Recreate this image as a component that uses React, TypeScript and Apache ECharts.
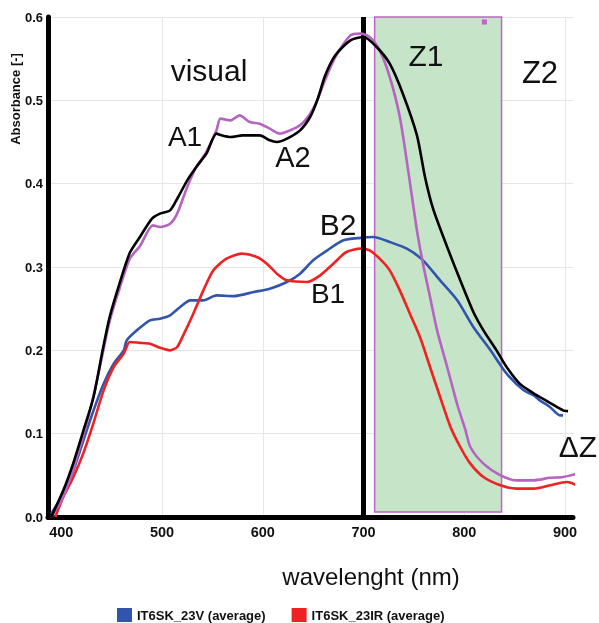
import React, { useEffect, useRef } from 'react';
import * as echarts from 'echarts';

// ---- data (wavelength nm / absorbance) ----
const blackNm = [390, 402, 412, 422, 432, 441, 448, 458, 468, 478, 490, 498, 508, 516, 525, 534, 544, 554, 559, 568, 580, 597, 607, 614, 624, 637, 647, 654, 662, 672, 687, 700, 713, 726, 739, 753, 761, 769, 783, 796, 809, 819, 832, 842, 855, 868, 875, 885, 898, 903];
const blackAbs = [0.0, 0.032, 0.065, 0.104, 0.144, 0.2, 0.24, 0.281, 0.317, 0.336, 0.358, 0.364, 0.368, 0.384, 0.404, 0.42, 0.436, 0.46, 0.458, 0.456, 0.458, 0.458, 0.452, 0.45, 0.454, 0.464, 0.48, 0.5, 0.53, 0.554, 0.572, 0.576, 0.564, 0.544, 0.508, 0.458, 0.408, 0.37, 0.324, 0.284, 0.246, 0.224, 0.2, 0.18, 0.16, 0.149, 0.144, 0.137, 0.128, 0.127];

const purpleNm = [390, 400, 410, 420, 430, 440, 448, 458, 468, 478, 491, 498, 508, 515, 525, 534, 544, 554, 558, 568, 577, 587, 597, 607, 617, 627, 637, 647, 654, 662, 672, 687, 697, 706, 716, 726, 736, 745, 753, 759, 766, 773, 783, 793, 801, 806, 819, 836, 852, 869, 885, 898, 912];
const purpleAbs = [0.0, 0.02, 0.05, 0.09, 0.135, 0.19, 0.235, 0.275, 0.31, 0.325, 0.35, 0.348, 0.352, 0.364, 0.396, 0.42, 0.438, 0.464, 0.478, 0.476, 0.482, 0.474, 0.472, 0.466, 0.46, 0.464, 0.47, 0.484, 0.5, 0.525, 0.552, 0.578, 0.58, 0.576, 0.56, 0.528, 0.48, 0.41, 0.344, 0.304, 0.264, 0.224, 0.18, 0.135, 0.105, 0.084, 0.064, 0.05, 0.044, 0.044, 0.047, 0.048, 0.052];

const redNm = [394, 402, 412, 422, 432, 442, 452, 462, 468, 478, 488, 498, 508, 515, 521, 531, 541, 551, 564, 579, 594, 604, 614, 624, 644, 657, 670, 683, 697, 706, 716, 726, 736, 746, 756, 766, 776, 786, 796, 806, 819, 836, 852, 869, 885, 902, 915];
const redAbs = [0.0, 0.024, 0.048, 0.077, 0.113, 0.152, 0.18, 0.196, 0.21, 0.209, 0.208, 0.203, 0.2, 0.204, 0.218, 0.244, 0.272, 0.296, 0.31, 0.316, 0.312, 0.304, 0.292, 0.284, 0.282, 0.29, 0.304, 0.318, 0.322, 0.32, 0.31, 0.296, 0.272, 0.244, 0.216, 0.18, 0.144, 0.109, 0.084, 0.064, 0.048, 0.038, 0.034, 0.034, 0.038, 0.042, 0.036];

const blueNm = [390, 402, 412, 422, 432, 442, 452, 462, 465, 475, 488, 498, 508, 518, 528, 541, 554, 571, 591, 607, 624, 637, 650, 664, 680, 697, 710, 726, 743, 759, 776, 793, 809, 826, 842, 859, 869, 875, 885, 895, 898];
const blueAbs = [0.004, 0.028, 0.056, 0.092, 0.128, 0.16, 0.184, 0.2, 0.212, 0.224, 0.236, 0.238, 0.242, 0.252, 0.26, 0.26, 0.266, 0.265, 0.27, 0.274, 0.282, 0.292, 0.308, 0.32, 0.332, 0.335, 0.336, 0.33, 0.322, 0.308, 0.284, 0.26, 0.228, 0.2, 0.172, 0.152, 0.146, 0.14, 0.132, 0.122, 0.122];

const xTicks = [400, 500, 600, 700, 800, 900];
const legendNames = ['IT6SK_23V (average)', 'IT6SK_23IR (average)'];
const zoneNm = [711, 837];
const boundaryNm = 700;

const FONT = '"Liberation Sans", Arial, sans-serif';
const GRID = '#e6e6e6';
const BLACK = '#000000';
const PURPLE = '#b763c2';
const BLUE = '#3155ad';
const RED = '#ee2222';

const pairs = (xs: number[], ys: number[]) => xs.map((x, i) => [x, ys[i]]);

const annot = (text: string, x: number, y: number, size: number) => ({
  type: 'text',
  x,
  y,
  z: 50,
  style: {
    text,
    fill: '#111',
    fontSize: size,
    fontFamily: FONT,
    align: 'center',
    verticalAlign: 'middle',
    textAlign: 'center',
    textVerticalAlign: 'middle',
  },
});

export default function App() {
  const ref = useRef<HTMLDivElement>(null);
  useEffect(() => {
    const chart = echarts.init(ref.current!, null, { renderer: 'svg' });
    const lineSeries = (name: string, data: number[][], color: string, z: number) => ({
      name,
      type: 'line',
      data,
      showSymbol: false,
      symbol: 'none',
      smooth: 0.25,
      clip: false,
      z,
      lineStyle: { color, width: 2.6 },
      itemStyle: { color },
    });
    chart.setOption({
      animation: false,
      textStyle: { fontFamily: FONT },
      grid: { left: 48, right: 26, top: 17, bottom: 106, containLabel: false },
      legend: {
        data: legendNames,
        left: 112,
        top: 603,
        icon: 'rect',
        itemWidth: 15,
        itemHeight: 14,
        itemGap: 26,
        textStyle: { fontFamily: FONT, fontWeight: 'bold', fontSize: 13, color: '#111' },
      },
      xAxis: {
        type: 'value',
        min: 386.8,
        max: 907.9,
        axisLine: { show: true, onZero: false, lineStyle: { color: BLACK, width: 5 } },
        axisTick: { show: false },
        axisLabel: {
          formatter: (v: number) => (xTicks.some((t) => Math.abs(t - v) < 1e-6) ? String(Math.round(v)) : ''),
          fontFamily: FONT,
          fontWeight: 'bold',
          fontSize: 14.5,
          color: '#111',
          margin: 7,
        },
        splitLine: {
          show: true,
          showMinLine: false,
          showMaxLine: false,
          lineStyle: { color: ['rgba(0,0,0,0)', GRID, GRID, GRID, GRID, GRID], width: 1 },
        },
      },
      yAxis: {
        type: 'value',
        min: 0,
        max: 0.6,
        interval: 0.1,
        axisLine: { show: true, lineStyle: { color: BLACK, width: 5 } },
        axisTick: { show: false },
        axisLabel: {
          formatter: (v: number) => v.toFixed(1),
          fontFamily: FONT,
          fontWeight: 'bold',
          fontSize: 13,
          color: '#111',
          margin: 5,
        },
        splitLine: { show: true, lineStyle: { color: GRID, width: 1 } },
      },
      series: [
        {
          name: 'zone',
          type: 'line',
          data: [],
          z: 1,
          markArea: {
            silent: true,
            itemStyle: { color: 'rgb(198,228,200)', borderColor: '#c062c6', borderWidth: 1.5 },
            data: [[{ xAxis: zoneNm[0], yAxis: 0.006 }, { xAxis: zoneNm[1], yAxis: 0.6 }]],
          },
          markPoint: {
            silent: true,
            symbol: 'rect',
            symbolSize: 5,
            itemStyle: { color: '#c062c6' },
            label: { show: false },
            data: [{ coord: [820, 0.594] }],
          },
        },
        lineSeries(legendNames[0], pairs(blueNm, blueAbs), BLUE, 3),
        lineSeries(legendNames[1], pairs(redNm, redAbs), RED, 4),
        lineSeries('A2 sample', pairs(purpleNm, purpleAbs), PURPLE, 5),
        lineSeries('A1 sample', pairs(blackNm, blackAbs), BLACK, 6),
        {
          name: 'boundary',
          type: 'line',
          data: [],
          z: 8,
          markLine: {
            silent: true,
            symbol: 'none',
            label: { show: false },
            lineStyle: { color: BLACK, width: 5, type: 'solid' },
            data: [[{ coord: [boundaryNm, 0] }, { coord: [boundaryNm, 0.6] }]],
          },
        },
      ],
      graphic: [
        {
          type: 'text',
          x: 15,
          y: 99,
          rotation: Math.PI / 2,
          z: 50,
          style: {
            text: 'Absorbance [-]',
            fill: '#111',
            fontSize: 13,
            fontWeight: 'bold',
            fontFamily: FONT,
            align: 'center',
            verticalAlign: 'middle',
            textAlign: 'center',
            textVerticalAlign: 'middle',
          },
        },
        annot('wavelenght (nm)', 371, 576, 24),
        annot('visual', 209, 70, 30),
        annot('Z1', 426, 55, 30),
        annot('Z2', 540, 72, 31),
        annot('A1', 185, 136, 28),
        annot('A2', 293, 157, 29),
        annot('B2', 338, 224, 30),
        annot('B1', 328, 293, 28),
        annot('\u0394Z', 578, 446, 30),
      ],
    });
    return () => chart.dispose();
  }, []);
  return <div ref={ref} style={{ position: 'fixed', left: 0, top: 0, width: 599, height: 623 }} />;
}
